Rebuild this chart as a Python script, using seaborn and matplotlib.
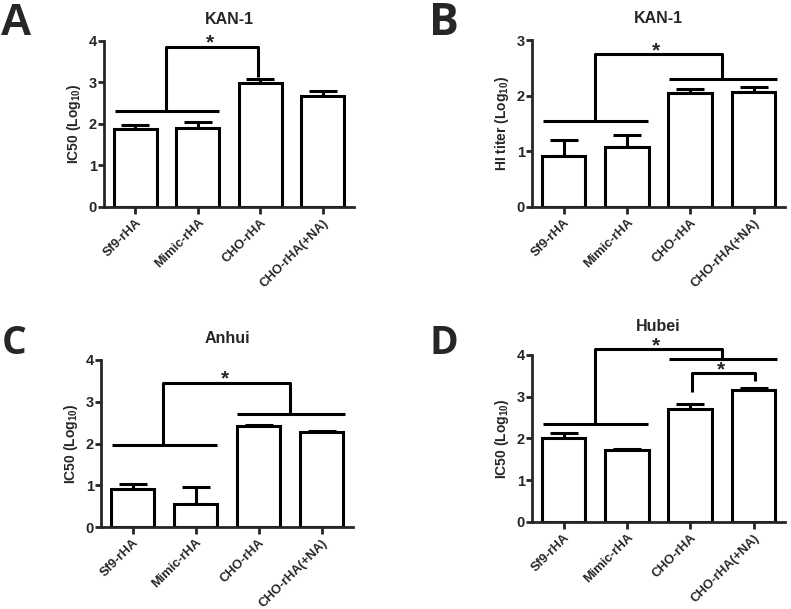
import matplotlib
matplotlib.use("Agg")
import matplotlib.pyplot as plt
import seaborn as sns
import numpy as np

sns.set_style("ticks")
plt.rcParams['font.family'] = ['Liberation Sans', 'DejaVu Sans']
plt.rcParams['font.weight'] = 'bold'
plt.rcParams['mathtext.fontset'] = 'custom'
plt.rcParams['mathtext.bf'] = 'Liberation Sans:bold'
plt.rcParams['mathtext.rm'] = 'Liberation Sans:bold'

# data
categories = ["Sf9-rHA", "Mimic-rHA", "CHO-rHA", "CHO-rHA(+NA)"]
titles = ["KAN-1", "KAN-1", "Anhui", "Hubei"]
ylabels = ["IC50 (Log$_{10}$)", "HI titer (Log$_{10}$)", "IC50 (Log$_{10}$)", "IC50 (Log$_{10}$)"]
ymax = [4, 3, 4, 4]

mean_a = [1.87, 1.90, 2.98, 2.67]
sem_a = [0.10, 0.15, 0.11, 0.13]
mean_b = [0.92, 1.08, 2.05, 2.07]
sem_b = [0.28, 0.21, 0.07, 0.08]
mean_c = [0.91, 0.55, 2.43, 2.27]
sem_c = [0.12, 0.42, 0.02, 0.04]
mean_d = [2.00, 1.72, 2.71, 3.15]
sem_d = [0.12, 0.02, 0.11, 0.05]

# significance brackets: group line levels and top bracket level
group_a = [2.32, None]
top_a = [3.86, 3.14]
group_b = [1.55, 2.30]
top_b = [2.75, None]
group_c = [1.97, 2.70]
top_c = [3.46, None]
group_d = [2.34, 3.90]
top_d = [4.14, None]

means = [mean_a, mean_b, mean_c, mean_d]
sems = [sem_a, sem_b, sem_c, sem_d]
groups = [group_a, group_b, group_c, group_d]
tops = [top_a, top_b, top_c, top_d]

# axes positions [left, bottom, width, height]
positions = [
    [0.1315, 0.6601, 0.3160, 0.2726],
    [0.6726, 0.6601, 0.3200, 0.2742],
    [0.1277, 0.1346, 0.3186, 0.2743],
    [0.6726, 0.1429, 0.3200, 0.2742],
]
title_pads = [12, 12, 12, 17]

fig = plt.figure(figsize=(7.91, 6.09), dpi=100)
LW = 2.2


def star(ax, x, y):
    ax.annotate("*", (x, y), xytext=(0, -1.5), textcoords="offset points",
                ha="center", va="baseline", fontsize=15, fontweight="bold",
                annotation_clip=False)


for i in range(4):
    ax = fig.add_axes(positions[i])
    sns.barplot(x=categories, y=means[i], ax=ax, color="white", saturation=1,
                edgecolor="black", linewidth=LW, width=0.69, zorder=2)
    x = np.arange(len(categories))
    ax.errorbar(x, means[i], yerr=[np.zeros(4), sems[i]], fmt="none",
                ecolor="black", elinewidth=LW, capsize=10.4, capthick=LW, zorder=1)
    ax.set_xlim(-0.5, 3.5)
    ax.set_ylim(0, ymax[i])
    ax.set_yticks(range(ymax[i] + 1))
    sns.despine(ax=ax)
    for s in ["left", "bottom"]:
        ax.spines[s].set_linewidth(2)
    ax.tick_params(axis="y", length=4, width=2, labelsize=10.5, pad=1)
    ax.tick_params(axis="x", length=5, width=2, labelsize=9.3, pad=2)
    ax.set_xticks(x)
    ax.set_xticklabels(categories, rotation=45, ha="right", rotation_mode="anchor",
                       fontweight="bold")
    for lab in ax.get_yticklabels():
        lab.set_fontweight("bold")
    ax.set_ylabel(ylabels[i], fontsize=10, fontweight="bold", labelpad=4)
    ax.set_title(titles[i], fontsize=11.5, fontweight="bold", pad=title_pads[i])

    g = groups[i]
    t = tops[i]
    kw = dict(color="black", lw=LW, clip_on=False, solid_capstyle="butt")
    # left group line
    ax.plot([-0.33, 1.34], [g[0], g[0]], **kw)
    if g[1] is not None:
        ax.plot([1.66, 3.37], [g[1], g[1]], **kw)
        right_end = g[1]
    else:
        right_end = t[1]
    xl, xr = 0.49, (2.5 if g[1] is not None else 1.97)
    ax.plot([xl, xl, xr, xr], [g[0], t[0], t[0], right_end], **kw)
    star(ax, (xl + xr) / 2 - 0.03, t[0])

    if i == 3:
        # inner bracket CHO-rHA vs CHO-rHA(+NA)
        ax.plot([2.03, 2.03, 3.03, 3.03], [3.12, 3.56, 3.56, 3.38], **kw)
        star(ax, 2.49, 3.56)

# panel letters
fig.text(0.0, 0.9425, "A", fontsize=32, fontweight="bold", va="baseline", ha="left",
         family=["Liberation Sans"])
fig.text(0.542, 0.9425, "B", fontsize=32, fontweight="bold", va="baseline", ha="left",
         family=["Open Sans"])
fig.text(0.002, 0.4187, "C", fontsize=28, fontweight="bold", va="baseline", ha="left",
         family=["Open Sans"])
fig.text(0.543, 0.4187, "D", fontsize=28, fontweight="bold", va="baseline", ha="left",
         family=["Open Sans"])

fig.savefig("out.png", dpi=100)
